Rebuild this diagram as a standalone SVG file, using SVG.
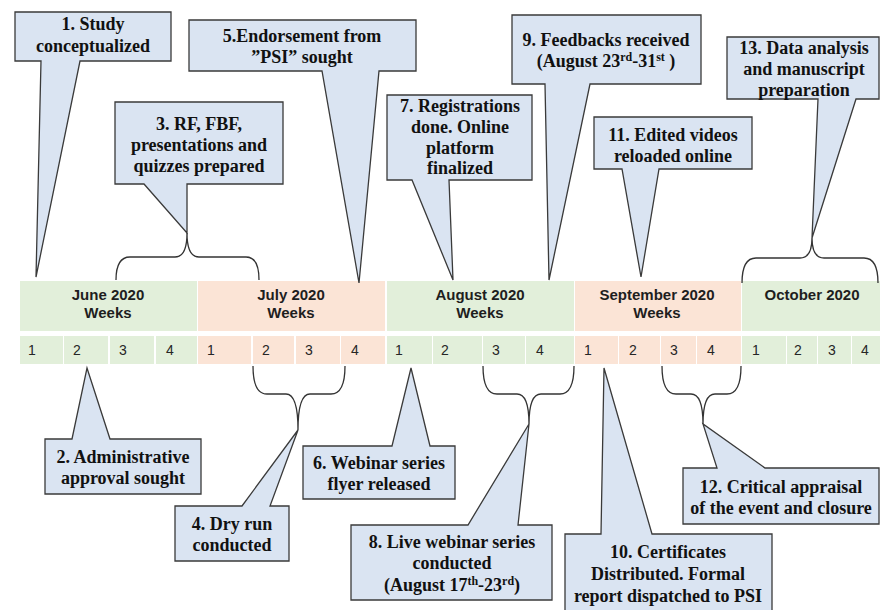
<svg xmlns="http://www.w3.org/2000/svg" width="880" height="610" viewBox="0 0 880 610">
<style>
.co{fill:#dae4f2;stroke:#3a3a3a;stroke-width:1.3;stroke-linejoin:miter}
.ct{font-family:"Liberation Serif","Times New Roman",serif;font-weight:bold;font-size:18px;fill:#111;text-anchor:middle}
.g{fill:#e2efda}
.o{fill:#fbe4d6}
.mt{font-family:"Liberation Sans",Arial,sans-serif;font-weight:bold;font-size:15px;fill:#1e1e1e;text-anchor:middle}
.wt{font-family:"Liberation Sans",Arial,sans-serif;font-size:14px;fill:#262626}
.br{fill:none;stroke:#333;stroke-width:1.3}
.sup{font-size:12px}
</style>
<rect width="880" height="610" fill="#fff"/>
<g id="band">
<g id="months">
<rect class="g" x="20" y="281" width="177" height="50"/>
<rect class="o" x="198" y="281" width="187" height="50"/>
<rect class="g" x="387" y="281" width="187" height="50"/>
<rect class="o" x="575" y="281" width="166" height="50"/>
<rect class="g" x="742" y="281" width="138" height="50"/>
<text class="mt" x="108" y="300">June 2020</text><text class="mt" x="108" y="318">Weeks</text>
<text class="mt" x="291" y="300">July 2020</text><text class="mt" x="291" y="318">Weeks</text>
<text class="mt" x="480" y="300">August 2020</text><text class="mt" x="480" y="318">Weeks</text>
<text class="mt" x="657" y="300">September 2020</text><text class="mt" x="657" y="318">Weeks</text>
<text class="mt" x="812" y="300">October 2020</text>
</g>
<g id="weeks">
<rect class="g" x="20" y="336" width="43" height="28"/>
<rect class="g" x="64" y="336" width="44" height="28"/>
<rect class="g" x="110" y="336" width="44" height="28"/>
<rect class="g" x="156" y="336" width="41" height="28"/>
<rect class="o" x="198" y="336" width="53" height="28"/>
<rect class="o" x="253" y="336" width="41" height="28"/>
<rect class="o" x="296" y="336" width="44" height="28"/>
<rect class="o" x="341" y="336" width="44" height="28"/>
<rect class="g" x="387" y="336" width="45" height="28"/>
<rect class="g" x="433" y="336" width="49" height="28"/>
<rect class="g" x="483" y="336" width="42" height="28"/>
<rect class="g" x="526" y="336" width="48" height="28"/>
<rect class="o" x="575" y="336" width="43" height="28"/>
<rect class="o" x="619" y="336" width="41" height="28"/>
<rect class="o" x="661" y="336" width="35" height="28"/>
<rect class="o" x="697" y="336" width="44" height="28"/>
<rect class="g" x="742" y="336" width="44" height="28"/>
<rect class="g" x="787" y="336" width="30" height="28"/>
<rect class="g" x="818" y="336" width="33" height="28"/>
<rect class="g" x="852" y="336" width="28" height="28"/>
<text class="wt" x="28" y="355">1</text><text class="wt" x="73" y="355">2</text><text class="wt" x="119" y="355">3</text><text class="wt" x="166" y="355">4</text>
<text class="wt" x="207" y="355">1</text><text class="wt" x="262" y="355">2</text><text class="wt" x="305" y="355">3</text><text class="wt" x="351" y="355">4</text>
<text class="wt" x="395" y="355">1</text><text class="wt" x="441" y="355">2</text><text class="wt" x="492" y="355">3</text><text class="wt" x="536" y="355">4</text>
<text class="wt" x="584" y="355">1</text><text class="wt" x="629" y="355">2</text><text class="wt" x="670" y="355">3</text><text class="wt" x="707" y="355">4</text>
<text class="wt" x="752" y="355">1</text><text class="wt" x="794" y="355">2</text><text class="wt" x="828" y="355">3</text><text class="wt" x="861" y="355">4</text>
</g>
</g>
<g id="connectors">
<path class="br" d="M116 280 Q116 257 130 257 L175 257 Q187 257 187 233 Q187 257 199 257 L246 257 Q259 257 259 280"/>
<path class="br" d="M742 283 Q742 258 756 258 L800 258 Q812 258 812 238 Q812 258 824 258 L864 258 Q878 258 878 283"/>
<path class="br" d="M253 366 Q253 394 267 394 L286 394 Q298 394 298 430 Q298 394 310 394 L331 394 Q345 394 345 366"/>
<path class="br" d="M483 366 Q483 394 497 394 L517 394 Q529 394 529 424 Q529 394 541 394 L560 394 Q574 394 574 366"/>
<path class="br" d="M662 366 Q662 394 676 394 L691 394 Q703 394 703 424 Q703 394 715 394 L727 394 Q741 394 741 366"/>
</g>
<g id="c1"><path class="co" d="M15 12 H171 V61 H80 L36 277 L41 61 H15 Z"/>
<text class="ct" x="93" y="30">1. Study</text><text class="ct" x="93" y="52">conceptualized</text></g>
<g id="c3"><path class="co" d="M115 102 H283 V184 H187 V233 L144 184 H115 Z"/>
<text class="ct" x="199" y="130">3. RF, FBF,</text><text class="ct" x="199" y="151">presentations and</text><text class="ct" x="199" y="172">quizzes prepared</text></g>
<g id="c5"><path class="co" d="M189 20 H416 V71 H379 L359 283 L322 71 H189 Z"/>
<text class="ct" x="302" y="42">5.Endorsement from</text><text class="ct" x="302" y="63">”PSI” sought</text></g>
<g id="c7"><path class="co" d="M387 95 H532 V180 H449 L453 280 L412 180 H387 Z"/>
<text class="ct" x="460" y="112">7. Registrations</text><text class="ct" x="460" y="133">done. Online</text><text class="ct" x="460" y="154">platform</text><text class="ct" x="460" y="174">finalized</text></g>
<g id="c9"><path class="co" d="M512 15 H701 V84 H590 L549 280 L545 84 H512 Z"/>
<text class="ct" x="606" y="46">9. Feedbacks received</text><text class="ct" x="606" y="67">(August 23<tspan class="sup" dy="-6">rd</tspan><tspan dy="6">-31</tspan><tspan class="sup" dy="-6">st</tspan><tspan dy="6">  )</tspan></text></g>
<g id="c11"><path class="co" d="M594 117 H752 V169 H659 L641 277 L622 169 H594 Z"/>
<text class="ct" x="673" y="141">11. Edited videos</text><text class="ct" x="673" y="162">reloaded online</text></g>
<g id="c13"><path class="co" d="M727 37 H879 V99 H856 L812 238 L818 99 H727 Z"/>
<text class="ct" x="804" y="54">13. Data analysis</text><text class="ct" x="804" y="75">and manuscript</text><text class="ct" x="804" y="96">preparation</text></g>
<g id="c2"><path class="co" d="M45 439 H72 L87 368 L110 439 H201 V494 H45 Z"/>
<text class="ct" x="123" y="463">2. Administrative</text><text class="ct" x="123" y="484">approval sought</text></g>
<g id="c4"><path class="co" d="M175 506 H242 L298 430 L270 506 H289 V561 H175 Z"/>
<text class="ct" x="232" y="530">4. Dry run</text><text class="ct" x="232" y="551">conducted</text></g>
<g id="c6"><path class="co" d="M303 446 H392 L411 368 L430 446 H455 V499 H303 Z"/>
<text class="ct" x="379" y="469">6. Webinar series</text><text class="ct" x="379" y="490">flyer released</text></g>
<g id="c8"><path class="co" d="M351 525 H468 L529 424 L518 525 H552 V600 H351 Z"/>
<text class="ct" x="452" y="548">8. Live webinar series</text><text class="ct" x="452" y="569">conducted</text><text class="ct" x="452" y="591">(August 17<tspan class="sup" dy="-6">th</tspan><tspan dy="6">-23</tspan><tspan class="sup" dy="-6">rd</tspan><tspan dy="6">)</tspan></text></g>
<g id="c10"><path class="co" d="M565 534 H601 L604 368 L652 534 H772 V612 H565 Z"/>
<text class="ct" x="668" y="558">10. Certificates</text><text class="ct" x="668" y="580">Distributed. Formal</text><text class="ct" x="668" y="602">report dispatched to PSI</text></g>
<g id="c12"><path class="co" d="M683 468 H717 L703 424 L765 468 H879 V524 H683 Z"/>
<text class="ct" x="781" y="493">12. Critical appraisal</text><text class="ct" x="781" y="514">of the event and closure</text></g>
</svg>
